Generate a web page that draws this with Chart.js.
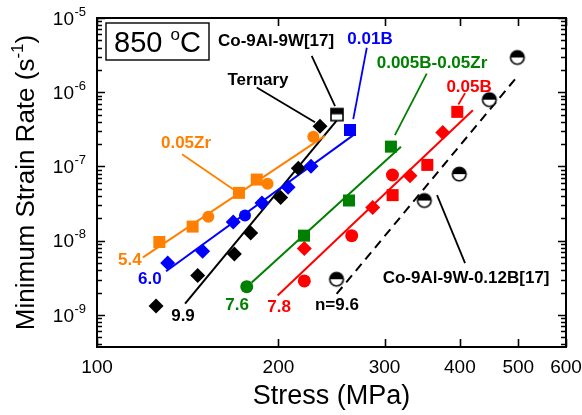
<!DOCTYPE html>
<html><head><meta charset="utf-8">
<script src="https://cdn.jsdelivr.net/npm/chart.js@4/dist/chart.umd.min.js"></script>
<style>html,body{margin:0;padding:0;background:#fff}</style>
</head><body>
<canvas id="c" width="582" height="415"></canvas>
<script>
// ---------- data (stress in MPa, minimum strain rate in 1/s) ----------
const X_TICKS = [100, 200, 300, 400, 500, 600];
const Y_EXPONENTS = [-9, -8, -7, -6, -5];

// 0.05Zr (orange)
const zrSqStress = [126.9, 144.1, 172.0, 184.1];
const zrSqRate   = [9.6e-9, 1.55e-8, 4.41e-8, 6.66e-8];
const zrCiStress = [153.0, 191.9, 228.5];
const zrCiRate   = [2.10e-8, 5.85e-8, 2.51e-7];
const zrFitStress = [119.2, 238.9];
const zrFitRate   = [5.97e-9, 2.58e-7];

// 0.01B (blue)
const bDiStress = [131.0, 149.7, 168.3, 187.8, 207.5, 226.5];
const bDiRate   = [4.99e-9, 7.22e-9, 1.78e-8, 3.23e-8, 5.23e-8, 1.01e-7];
const bCiStress = [176.0];
const bCiRate   = [2.18e-8];
const bSqStress = [262.9];
const bSqRate   = [3.10e-7];
const bFitStress = [130.2, 266.2];
const bFitRate   = [3.88e-9, 2.64e-7];

// Ternary (black)
const tDiStress = [125.3, 146.9, 169.0, 179.9, 201.7, 215.8, 234.4];
const tDiRate   = [1.32e-9, 3.40e-9, 6.6e-9, 1.27e-8, 3.83e-8, 9.47e-8, 3.49e-7];
const tFitStress = [140.0, 249.8];
const tFitRate   = [1.42e-9, 4.15e-7];

// Co-9Al-9W [17]
const refWStress = [250.1];
const refWRate   = [5.0e-7];

// 0.005B-0.05Zr (green)
const gCiStress = [177.2];
const gCiRate   = [2.40e-9];
const gSqStress = [220.5, 261.9, 307.4];
const gSqRate   = [1.17e-8, 3.48e-8, 1.85e-7];
const gFitStress = [180.6, 319.4];
const gFitRate   = [2.73e-9, 1.85e-7];

// 0.05B (red)
const rCiStress = [220.8, 264.6, 309.2];
const rCiRate   = [2.87e-9, 1.17e-8, 7.67e-8];
const rDiStress = [220.8, 286.7, 330.6, 374.7];
const rDiRate   = [7.83e-9, 2.80e-8, 7.51e-8, 2.86e-7];
const rSqStress = [309.4, 353.2, 396.1];
const rSqRate   = [4.11e-8, 1.05e-7, 5.44e-7];
const rFitStress = [199.4, 420.3];
const rFitRate   = [1.83e-9, 5.71e-7];

// Co-9Al-9W-0.12B [17]
const refBStress = [249.7, 349.2, 399.1, 447.7, 498.2];
const refBRate   = [3.03e-9, 3.48e-8, 7.9e-8, 7.95e-7, 2.94e-6];
const refBFitStress = [249.8, 500];
const refBFitRate   = [1.92e-9, 1.69e-6];

// annotations (anchored in data units)
const labelTexts  = ['0.05Zr','Ternary','Co-9Al-9W[17]','0.01B','0.005B-0.05Zr','0.05B','Co-9Al-9W-0.12B[17]','n=9.6','5.4','6.0','9.9','7.6','7.8'];
const labelStress = [140.5, 185.0, 198.2, 283.8, 359.6, 414.3, 409.6, 250.1, 113.4, 122.4, 138.9, 170.8, 200.5];
const labelRate   = [2.03e-7, 1.44e-6, 4.81e-6, 5.11e-6, 2.48e-6, 1.17e-6, 3.08e-9, 1.36e-9, 5.46e-9, 2.99e-9, 9.5e-10, 1.36e-9, 1.28e-9];
const labelColorKey = ['zr','k','k','b','g','r','k','k','zr','b','k','g','r'];
const leaderX1 = [138.4, 184.1, 227.1, 280.3, 352.4, 408.0, 366.6];
const leaderY1 = [1.46e-7, 1.16e-6, 3.09e-6, 3.97e-6, 1.78e-6, 9.73e-7, 4.11e-8];
const leaderX2 = [168.2, 230.0, 248.3, 266.2, 312.1, 397.7, 408.0];
const leaderY2 = [4.93e-8, 3.94e-7, 6.52e-7, 4.35e-7, 2.64e-7, 6.84e-7, 4.99e-9];
const leaderColorKey = ['zr','k','k','b','g','r','k'];

// ---------- styles ----------
const COL = {zr:'#FF8000', b:'#0000FF', g:'#008000', r:'#FF0000', k:'#000000'};
const FONT = "'Liberation Sans', Arial, Helvetica, sans-serif";

function pts(xs, ys){ return xs.map((x,i)=>({x:x, y:ys[i]})); }

function halfCircle(r){
  const s = 2*Math.ceil(r+1.5); const c = document.createElement('canvas');
  c.width = c.height = s; const g = c.getContext('2d'); const m = s/2;
  g.beginPath(); g.arc(m,m,r,0,2*Math.PI); g.fillStyle='#fff'; g.fill();
  g.beginPath(); g.arc(m,m,r,Math.PI,2*Math.PI); g.closePath(); g.fillStyle='#000'; g.fill();
  g.beginPath(); g.arc(m,m,r,0,2*Math.PI); g.lineWidth=1.6; g.strokeStyle='#000'; g.stroke();
  return c;
}
function halfSquare(h){
  const s = 2*Math.ceil(h+1.5); const c = document.createElement('canvas');
  c.width = c.height = s; const g = c.getContext('2d'); const m = s/2;
  g.fillStyle='#fff'; g.fillRect(m-h,m-h,2*h,2*h);
  g.fillStyle='#000'; g.fillRect(m-h,m-h,2*h,h*0.95);
  g.lineWidth=1.6; g.strokeStyle='#000'; g.strokeRect(m-h,m-h,2*h,2*h);
  return c;
}

function markers(xs, ys, style, radius, color){
  return {data: pts(xs, ys), showLine:false, pointStyle: style, pointRadius: radius,
    pointHoverRadius: radius, backgroundColor: color, borderColor: color, borderWidth: 0, order: 1};
}
function fit(xs, ys, color, dash){
  return {data: pts(xs, ys), showLine:true, pointRadius:0, borderColor: color,
    borderWidth: 2, borderDash: dash || [], fill:false, order: 2};
}

const datasets = [
  fit(zrFitStress, zrFitRate, COL.zr),
  fit(bFitStress, bFitRate, COL.b),
  fit(tFitStress, tFitRate, COL.k),
  fit(gFitStress, gFitRate, COL.g),
  fit(rFitStress, rFitRate, COL.r),
  fit(refBFitStress, refBFitRate, COL.k, [9,6]),
  markers(zrSqStress, zrSqRate, 'rect', 8.5, COL.zr),
  markers(zrCiStress, zrCiRate, 'circle', 6, COL.zr),
  markers(bDiStress, bDiRate, 'rectRot', 7.5, COL.b),
  markers(bCiStress, bCiRate, 'circle', 6, COL.b),
  markers(bSqStress, bSqRate, 'rect', 8.5, COL.b),
  markers(tDiStress, tDiRate, 'rectRot', 7.5, COL.k),
  markers(refWStress, refWRate, halfSquare(6), 7, COL.k),
  markers(gCiStress, gCiRate, 'circle', 6.5, COL.g),
  markers(gSqStress, gSqRate, 'rect', 8.5, COL.g),
  markers(rCiStress, rCiRate, 'circle', 6.5, COL.r),
  markers(rDiStress, rDiRate, 'rectRot', 7.5, COL.r),
  markers(rSqStress, rSqRate, 'rect', 8.5, COL.r),
  markers(refBStress, refBRate, halfCircle(6.8), 7, COL.k),
];

const decor = {
  id: 'decor',
  beforeDatasetsDraw(chart){
    const ctx = chart.ctx, xs = chart.scales.x, ys = chart.scales.y;
    ctx.save();
    ctx.lineWidth = 1.8;
    for (let i=0;i<leaderX1.length;i++){
      ctx.strokeStyle = COL[leaderColorKey[i]];
      ctx.beginPath();
      ctx.moveTo(xs.getPixelForValue(leaderX1[i]), ys.getPixelForValue(leaderY1[i]));
      ctx.lineTo(xs.getPixelForValue(leaderX2[i]), ys.getPixelForValue(leaderY2[i]));
      ctx.stroke();
    }
    ctx.restore();
  },
  afterDatasetsDraw(chart){
    const ctx = chart.ctx, xs = chart.scales.x, ys = chart.scales.y, a = chart.chartArea;
    ctx.save();
    // labels
    ctx.font = 'bold 17px ' + FONT;
    ctx.textAlign = 'center'; ctx.textBaseline = 'middle';
    for (let i=0;i<labelTexts.length;i++){
      ctx.fillStyle = COL[labelColorKey[i]];
      ctx.fillText(labelTexts[i], xs.getPixelForValue(labelStress[i]), ys.getPixelForValue(labelRate[i]));
    }
    // frame
    ctx.strokeStyle = '#000'; ctx.lineWidth = 2;
    ctx.strokeRect(a.left, a.top, a.right - a.left, a.bottom - a.top);
    // x ticks (inward, top and bottom)
    ctx.lineWidth = 1.6;
    X_TICKS.forEach(v => {
      const px = Math.round(xs.getPixelForValue(v)) + 0.5;
      ctx.beginPath();
      ctx.moveTo(px, a.bottom); ctx.lineTo(px, a.bottom - 8);
      ctx.moveTo(px, a.top); ctx.lineTo(px, a.top + 8);
      ctx.stroke();
    });
    // y ticks (major + minor, inward, left and right)
    for (let e = -10; e <= -5; e++){
      for (let m = 1; m <= 9; m++){
        const v = m * Math.pow(10, e);
        if (v < ys.min * 0.999 || v > ys.max * 1.001) continue;
        const py = Math.round(ys.getPixelForValue(v)) + 0.5;
        const len = (m === 1) ? 8 : 5;
        ctx.beginPath();
        ctx.moveTo(a.left, py); ctx.lineTo(a.left + len, py);
        ctx.moveTo(a.right, py); ctx.lineTo(a.right - len, py);
        ctx.stroke();
      }
    }
    // y tick labels 10^n
    ctx.fillStyle = '#000';
    Y_EXPONENTS.forEach(e => {
      const py = ys.getPixelForValue(Math.pow(10, e));
      ctx.font = '19px ' + FONT; ctx.textAlign = 'right'; ctx.textBaseline = 'middle';
      ctx.fillText('10', 74, py + 1.5);
      ctx.font = '13px ' + FONT; ctx.textAlign = 'left';
      ctx.fillText(String(e), 74.5, py - 6);
    });
    // y axis title with superscript
    ctx.save();
    ctx.translate(25, (a.top + a.bottom) / 2);
    ctx.rotate(-Math.PI/2);
    ctx.textBaseline = 'alphabetic'; ctx.textAlign = 'left';
    ctx.font = '26px ' + FONT;
    const t1 = 'Minimum Strain Rate (s', t3 = ')';
    const w1 = ctx.measureText(t1).width, w3 = ctx.measureText(t3).width;
    ctx.font = '17px ' + FONT;
    const t2 = '-1'; const w2 = ctx.measureText(t2).width;
    let sx = -(w1 + w2 + w3) / 2;
    ctx.font = '26px ' + FONT; ctx.fillText(t1, sx, 9);
    ctx.font = '17px ' + FONT; ctx.fillText(t2, sx + w1, -2);
    ctx.font = '26px ' + FONT; ctx.fillText(t3, sx + w1 + w2, 9);
    ctx.restore();
    // temperature box
    const bx = a.left + 9, by = a.top + 5, bw = 103, bh = 37;
    ctx.fillStyle = '#fff'; ctx.fillRect(bx, by, bw, bh);
    ctx.lineWidth = 1.4; ctx.strokeStyle = '#000'; ctx.strokeRect(bx, by, bw, bh);
    ctx.fillStyle = '#000'; ctx.textBaseline = 'alphabetic'; ctx.textAlign = 'left';
    ctx.font = '29px ' + FONT;
    const s1 = '850 ', s3 = 'C';
    const v1 = ctx.measureText(s1).width, v3 = ctx.measureText(s3).width;
    ctx.font = '17px ' + FONT; const v2 = ctx.measureText('o').width;
    let tx = bx + (bw - v1 - v2 - v3) / 2; const base = by + bh/2 + 10.5;
    ctx.font = '29px ' + FONT; ctx.fillText(s1, tx, base);
    ctx.font = '17px ' + FONT; ctx.fillText('o', tx + v1, base - 12);
    ctx.font = '29px ' + FONT; ctx.fillText(s3, tx + v1 + v2, base);
    ctx.restore();
  }
};

Chart.defaults.font.family = FONT;
Chart.defaults.color = '#000';

new Chart(document.getElementById('c'), {
  type: 'scatter',
  data: { datasets: datasets },
  options: {
    responsive: false, animation: false, devicePixelRatio: 1,
    layout: { padding: { left: 0, right: 16, top: 18, bottom: 0 } },
    plugins: { legend: { display: false }, tooltip: { enabled: false } },
    scales: {
      x: {
        type: 'logarithmic', min: 100, max: 600,
        grid: { display: false, drawTicks: false }, border: { display: false },
        afterBuildTicks: s => { s.ticks = X_TICKS.map(v => ({ value: v })); },
        afterFit: s => { s.height = 68; s.paddingLeft = 0; s.paddingRight = 0; },
        ticks: { autoSkip: false, maxRotation: 0, padding: 9, color: '#000',
          font: { size: 19 }, callback: v => String(v) },
        title: { display: true, text: 'Stress (MPa)', color: '#000',
          font: { size: 27 }, padding: { top: 0, bottom: 2 } }
      },
      y: {
        type: 'logarithmic', min: 3.7e-10, max: 1e-5,
        grid: { display: false, drawTicks: false }, border: { display: false },
        ticks: { display: false },
        afterFit: s => { s.width = 97; s.paddingTop = 0; s.paddingBottom = 0; }
      }
    }
  },
  plugins: [decor]
});
</script>
</body></html>
